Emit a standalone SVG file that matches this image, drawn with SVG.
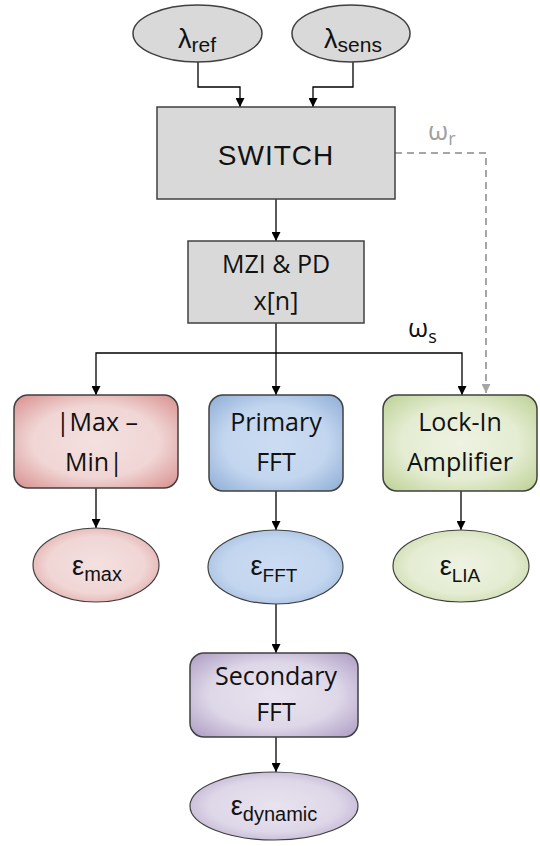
<svg xmlns="http://www.w3.org/2000/svg" width="540" height="846" viewBox="0 0 540 846">
<defs>
<radialGradient id="gRed" cx="50%" cy="50%" r="70%"><stop offset="0" stop-color="#f4e0e0"/><stop offset="0.55" stop-color="#f0d6d5"/><stop offset="1" stop-color="#d88f8d"/></radialGradient>
<radialGradient id="gBlue" cx="50%" cy="50%" r="70%"><stop offset="0" stop-color="#cbdcf2"/><stop offset="0.55" stop-color="#c3d6ef"/><stop offset="1" stop-color="#8eadd5"/></radialGradient>
<radialGradient id="gGreen" cx="50%" cy="50%" r="70%"><stop offset="0" stop-color="#eef3e2"/><stop offset="0.55" stop-color="#e4ecd2"/><stop offset="1" stop-color="#bcd193"/></radialGradient>
<radialGradient id="gPurple" cx="50%" cy="50%" r="70%"><stop offset="0" stop-color="#e8e3ef"/><stop offset="0.55" stop-color="#ded7e8"/><stop offset="1" stop-color="#ac9bc3"/></radialGradient>
<marker id="arr" viewBox="0 0 10 10" refX="10" refY="5" markerWidth="9" markerHeight="9" markerUnits="userSpaceOnUse" orient="auto"><path d="M0,0 L10,5 L0,10 Z" fill="#000"/></marker>
<marker id="arrG" viewBox="0 0 10 10" refX="10" refY="5" markerWidth="9" markerHeight="9" markerUnits="userSpaceOnUse" orient="auto"><path d="M0,0 L10,5 L0,10 Z" fill="#a6a6a6"/></marker>
</defs>
<style>
.gray{fill:#d9d9d9;stroke:#404040;stroke-width:1.5}
.box{stroke:#404040;stroke-width:1.5}
.ell{stroke:#404040;stroke-width:1.2}
.arial{font-family:"Liberation Sans",Arial,sans-serif;fill:#111}
.cal{font-family:"Open Sans","DejaVu Sans",sans-serif;fill:#111;font-size:25px;text-anchor:middle}
.con{fill:none;stroke:#000;stroke-width:1.3;marker-end:url(#arr)}
.lin{fill:none;stroke:#000;stroke-width:1.3}
.dash{fill:none;stroke:#a6a6a6;stroke-width:2;stroke-dasharray:7,5;marker-end:url(#arrG)}
</style>
<rect width="540" height="846" fill="#fff"/>
<g id="connectors">
<path class="con" d="M198 62 V87 H240 V107"/>
<path class="con" d="M353 62 V87 H313 V107"/>
<path class="con" d="M276 199 V241"/>
<path class="con" d="M276 323 V395"/>
<path class="con" d="M276 353 H96 V395"/>
<path class="con" d="M276 353 H462 V395"/>
<path class="dash" d="M395 153 H486 V393"/>
<path class="con" d="M96 488 V528"/>
<path class="con" d="M276 491 V530"/>
<path class="con" d="M461 491 V530"/>
<path class="con" d="M276 604 V653"/>
<path class="con" d="M276 737 V772"/>
<text x="408" y="337" font-family="Open Sans, sans-serif" font-size="26" fill="#111">ω<tspan font-size="18" dy="6">s</tspan></text>
<text x="428" y="140" font-family="Open Sans, sans-serif" font-size="26" fill="#a0a0a0">ω<tspan font-size="18" dy="5">r</tspan></text>
</g>
<g id="lambda_ref">
<ellipse class="gray" cx="197.5" cy="33.5" rx="64.5" ry="28.5"/>
<text class="arial" x="197" y="48" font-size="27" text-anchor="middle">λ<tspan font-size="21" dy="4">ref</tspan></text>
</g>
<g id="lambda_sens">
<ellipse class="gray" cx="351" cy="33.5" rx="59" ry="28.5"/>
<text class="arial" x="353" y="48" font-size="27" text-anchor="middle">λ<tspan font-size="21" dy="4">sens</tspan></text>
</g>
<g id="switch">
<rect class="gray" x="157" y="107" width="238" height="92"/>
<text class="arial" x="276" y="165" font-size="28" text-anchor="middle" letter-spacing="1">SWITCH</text>
</g>
<g id="mzi">
<rect class="gray" x="188" y="241" width="176" height="82"/>
<text class="cal" x="276" y="273" font-size="26">MZI &amp; PD</text>
<text class="cal" x="276" y="310" font-size="26">x[n]</text>
</g>
<g id="maxmin">
<rect class="box" x="14" y="395" width="164" height="93" rx="14" fill="url(#gRed)"/>
<text class="cal" x="97" y="431">|Max –</text>
<text class="cal" x="94" y="471">Min|</text>
</g>
<g id="primary_fft">
<rect class="box" x="209" y="395" width="134" height="96" rx="14" fill="url(#gBlue)"/>
<text class="cal" x="276" y="431">Primary</text>
<text class="cal" x="276" y="471">FFT</text>
</g>
<g id="lockin">
<rect class="box" x="383" y="395" width="154" height="96" rx="14" fill="url(#gGreen)"/>
<text class="cal" x="460" y="431">Lock-In</text>
<text class="cal" x="460" y="471">Amplifier</text>
</g>
<g id="eps_max">
<ellipse class="ell" cx="96" cy="565" rx="63" ry="37" fill="url(#gRed)"/>
<text class="arial" x="97" y="575" font-size="27" text-anchor="middle">ε<tspan font-size="20" dy="6">max</tspan></text>
</g>
<g id="eps_fft">
<ellipse class="ell" cx="275.5" cy="567" rx="67.5" ry="37" fill="url(#gBlue)"/>
<text class="arial" x="274" y="575" font-size="27" text-anchor="middle">ε<tspan font-size="19" dy="7">FFT</tspan></text>
</g>
<g id="eps_lia">
<ellipse class="ell" cx="461" cy="566" rx="68" ry="36" fill="url(#gGreen)"/>
<text class="arial" x="460" y="575" font-size="27" text-anchor="middle">ε<tspan font-size="19" dy="7">LIA</tspan></text>
</g>
<g id="secondary_fft">
<rect class="box" x="190" y="653" width="168" height="84" rx="14" fill="url(#gPurple)"/>
<text class="cal" x="276" y="685" font-size="26">Secondary</text>
<text class="cal" x="276" y="721" font-size="26">FFT</text>
</g>
<g id="eps_dynamic">
<ellipse class="ell" cx="274" cy="806" rx="84" ry="34" fill="url(#gPurple)"/>
<text class="arial" x="274" y="815" font-size="27" text-anchor="middle">ε<tspan font-size="20" dy="6">dynamic</tspan></text>
</g>
</svg>
